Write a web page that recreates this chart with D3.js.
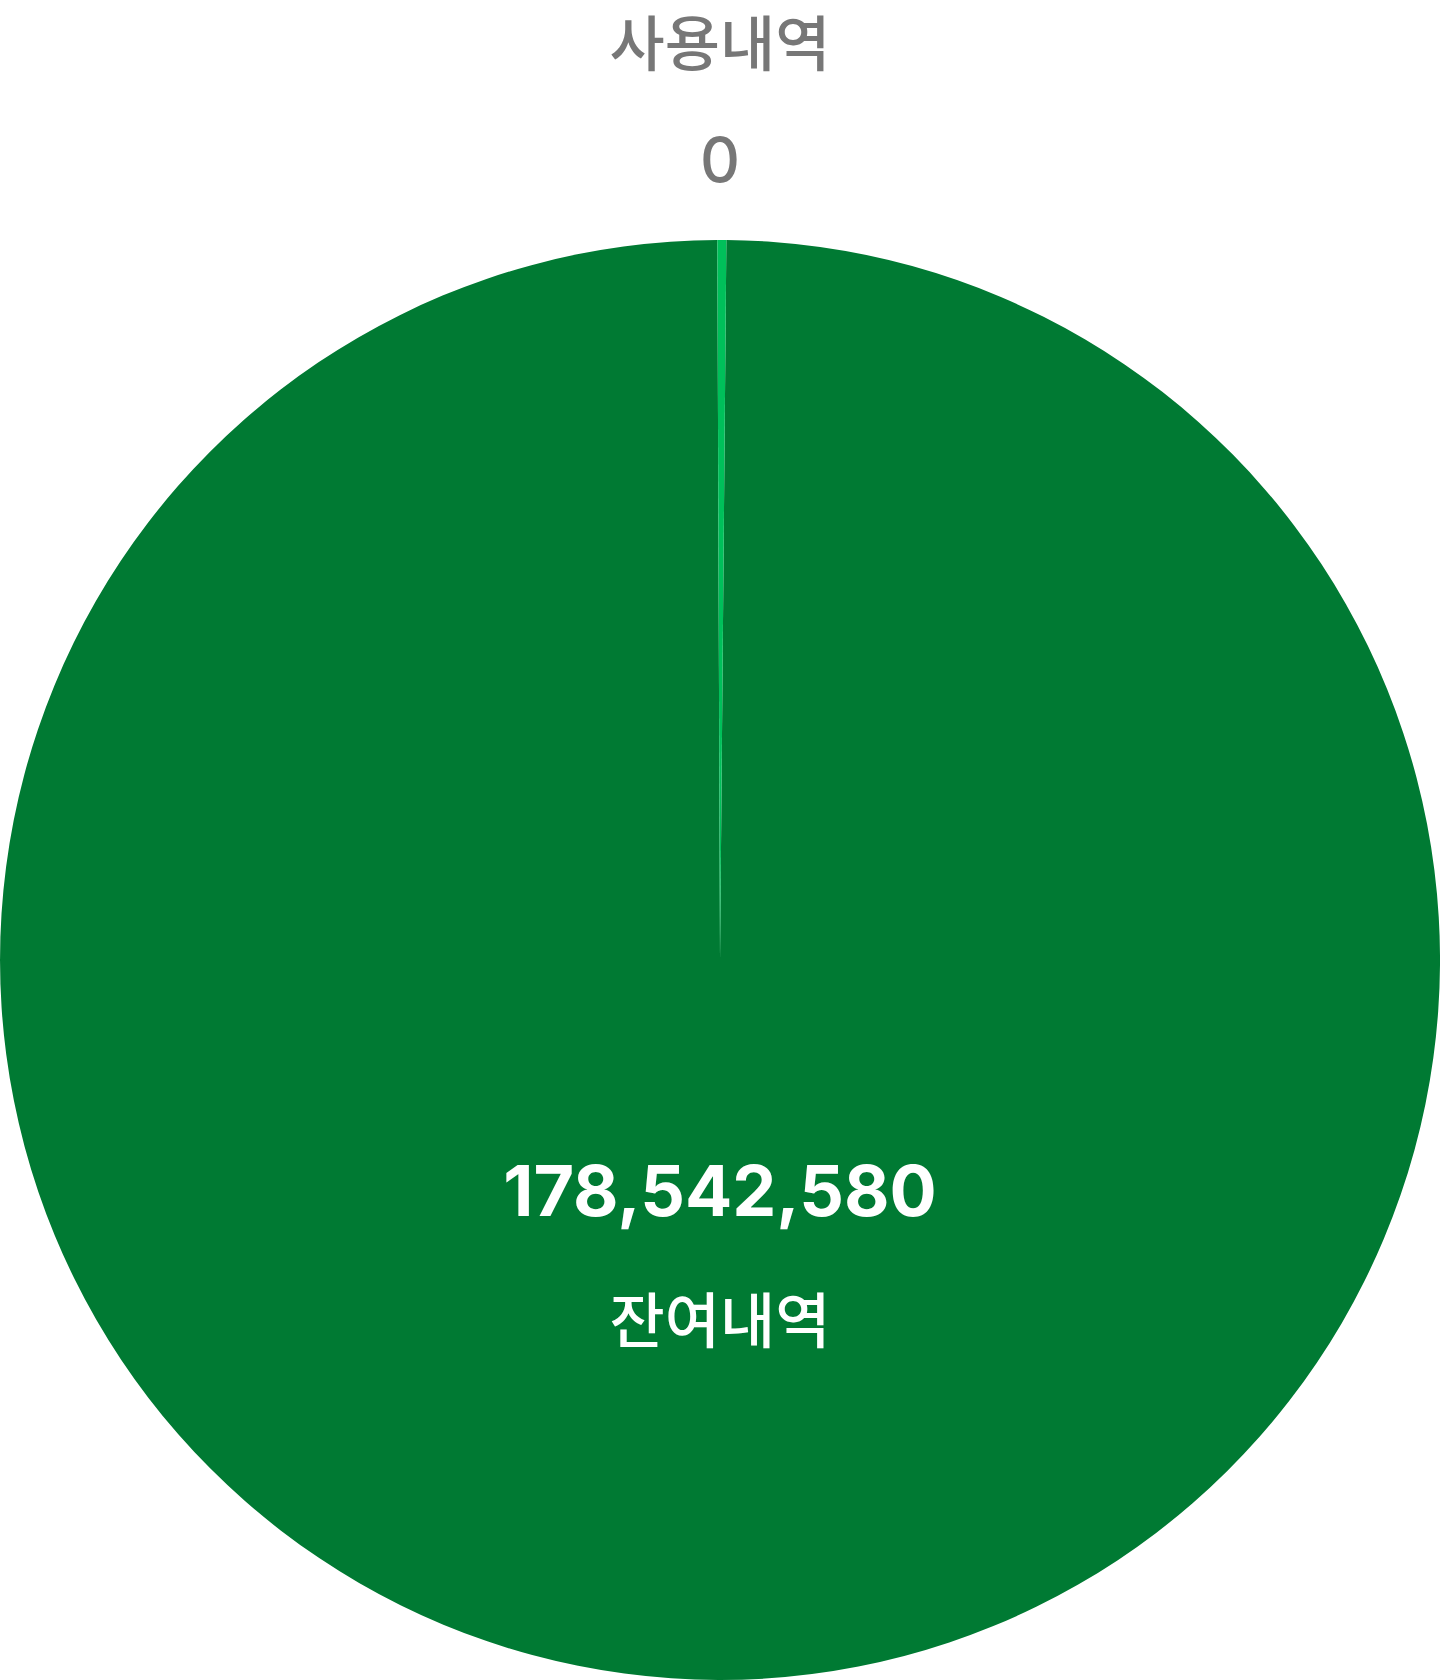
<!DOCTYPE html>
<html lang="ko">
<head>
<meta charset="utf-8">
<script src="https://cdn.jsdelivr.net/npm/d3@7"></script>
<style>
  html, body { margin: 0; padding: 0; background: #fff; }
  #chart { width: 1440px; height: 1680px; }
  .lbl-name { font-family: "Noto Sans CJK KR", "Noto Sans", sans-serif; font-size: 60px; font-weight: 500; }
  .lbl-value { font-family: Inter, "Noto Sans", sans-serif; }
</style>
</head>
<body>
<div id="chart"></div>
<script>
// Chart data
let categories = ["사용내역", "잔여내역"]
let values = [0, 178542580]
let colors = ["#00c05a", "#007a33"]

let width = 1440
let height = 1680
let radius = 720
let cx = 720, cy = 960

const svg = d3.select("#chart")
  .append("svg")
  .attr("width", width)
  .attr("height", height)

const slices = categories.map((c, i) => ({ name: c, value: values[i], color: colors[i] }))
const total = d3.sum(values)

// zero value still gets a thin visible sliver
const minShare = total * 0.002
const pie = d3.pie()
  .sort(null)
  .value(d => Math.max(d.value, minShare))
  .startAngle(-0.0037)
  .endAngle(-0.0037 + 2 * Math.PI)

const arc = d3.arc().innerRadius(0).outerRadius(radius)

const g = svg.append("g").attr("transform", `translate(${cx},${cy})`)

const arcs = pie(slices)

// draw big slice first, then the sliver on top
g.selectAll("path")
  .data(arcs.slice().reverse())
  .enter()
  .append("path")
  .attr("d", arc)
  .attr("fill", d => d.data.color)

const fmt = d3.format(",")

// used label sits above the pie
svg.append("text")
  .attr("class", "lbl-name")
  .attr("text-anchor", "middle")
  .attr("x", cx)
  .attr("y", 66)
  .attr("fill", "#777777")
  .text(categories[0])

svg.append("text")
  .attr("class", "lbl-value")
  .attr("text-anchor", "middle")
  .attr("x", cx)
  .attr("y", 182)
  .attr("fill", "#777777")
  .attr("font-size", 62)
  .attr("font-weight", 500)
  .text(fmt(values[0]))

// remaining label inside
svg.append("text")
  .attr("class", "lbl-value")
  .attr("text-anchor", "middle")
  .attr("x", cx)
  .attr("y", 1216)
  .attr("fill", "#ffffff")
  .attr("font-size", 70)
  .attr("font-weight", 700)
  .text(fmt(values[1]))

svg.append("text")
  .attr("class", "lbl-name")
  .attr("text-anchor", "middle")
  .attr("x", cx)
  .attr("y", 1343)
  .attr("fill", "#ffffff")
  .text(categories[1])
</script>
</body>
</html>
